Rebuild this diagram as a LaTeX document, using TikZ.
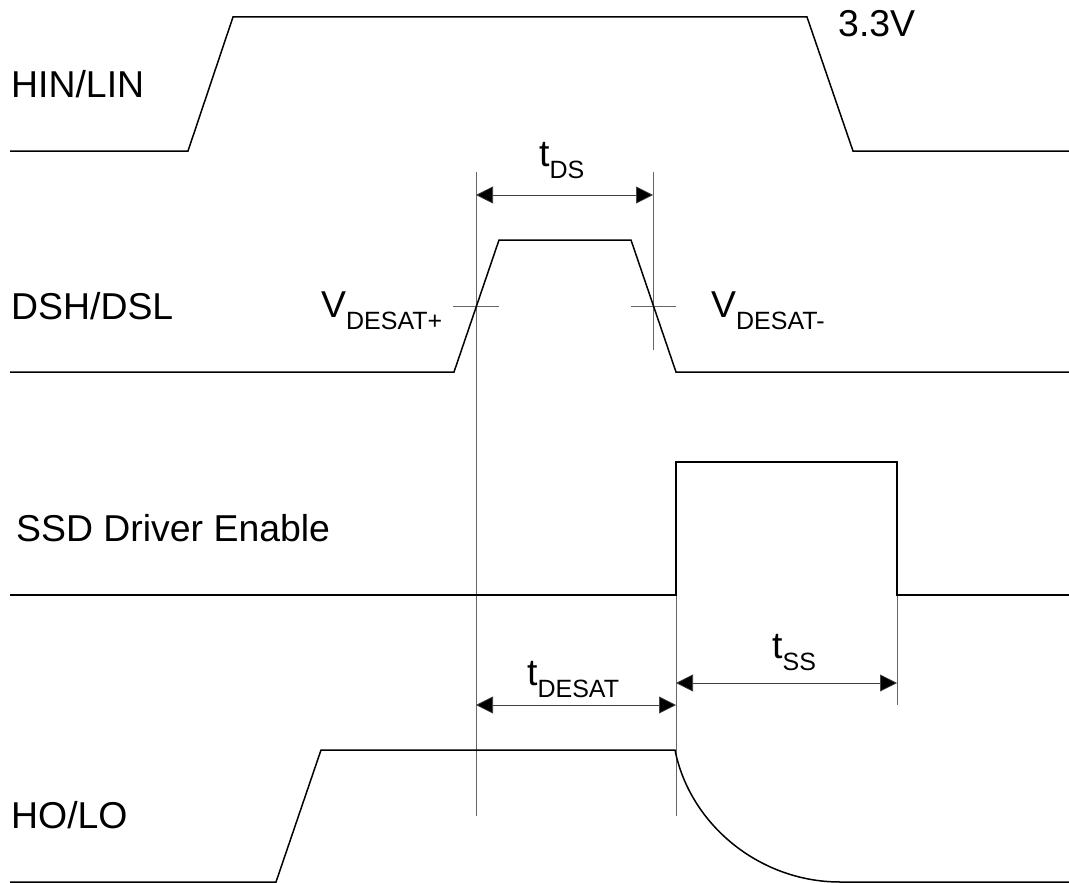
\documentclass[tikz,border=0pt]{standalone}
\usepackage{fontspec}
\setmainfont{Liberation Sans}
\usetikzlibrary{arrows.meta}
\newcommand{\lowsub}[1]{\raisebox{-12.5pt}{\fontsize{25}{30}\selectfont #1}}
\tikzset{
 wave/.style={line width=1.5pt,black,line join=miter},
 guide/.style={line width=0.7pt,black!60},
 dim/.style={line width=0.7pt,black!75,{Triangle[length=17pt,width=17pt,fill=black]}-{Triangle[length=17pt,width=17pt,fill=black]}},
 lab/.style={inner sep=0pt,font=\fontsize{37.4}{40}\selectfont,anchor=base west}
}
\begin{document}
\begin{tikzpicture}[x=1pt,y=-1pt]
\useasboundingbox (0,0) rectangle (1069,883);
\coordinate (a1) at (476,172); \coordinate (a2) at (476,816);
\coordinate (b1) at (653,172); \coordinate (b2) at (653,350);
\coordinate (c1) at (676,595); \coordinate (c2) at (676,816);
\coordinate (d1) at (897,595); \coordinate (d2) at (897,705);
\coordinate (e1) at (453,306); \coordinate (e2) at (499,306);
\coordinate (f1) at (631,306); \coordinate (f2) at (676,306);
\draw[guide] (a1)--(a2);
\draw[guide] (b1)--(b2);
\draw[guide] (c1)--(c2);
\draw[guide] (d1)--(d2);
\draw[guide] (e1)--(e2);
\draw[guide] (f1)--(f2);
\draw[wave] (10,151)--(188,151)--(233,17)--(807,17)--(853,151)--(1069,151);
\draw[wave] (10,372)--(454,372)--(499,240)--(631,240)--(676,372)--(1069,372);
\draw[wave] (10,595)--(676,595)--(676,462)--(897,462)--(897,595)--(1069,595);
\draw[wave] (10,882)--(276,882)--(321,750)--(675,750) .. controls (690,825) and (760,882) .. (840,882)--(1069,882);
\coordinate (g1) at (476,195); \coordinate (g2) at (653,195);
\coordinate (h1) at (476,705); \coordinate (h2) at (676,705);
\coordinate (i1) at (676,683); \coordinate (i2) at (897,683);
\draw[dim] (g1)--(g2);
\draw[dim] (h1)--(h2);
\draw[dim] (i1)--(i2);
\node[lab] (n1) at (11,97) {HIN/LIN};
\node[lab] (n2) at (11,319) {DSH/DSL};
\node[lab] (n3) at (16,541) {SSD Driver Enable};
\node[lab] (n4) at (11,828) {HO/LO};
\node[lab] (n5) at (838,37) {3.3V};
\node[lab] (n6) at (321,317) {V\lowsub{DESAT+}};
\node[lab] (n7) at (711,317) {V\lowsub{DESAT-}};
\node[lab] (n8) at (539,166) {t\lowsub{DS}};
\node[lab] (n9) at (527,685) {t\lowsub{DESAT}};
\node[lab] (n10) at (772,658) {t\lowsub{SS}};
\end{tikzpicture}
\end{document}
